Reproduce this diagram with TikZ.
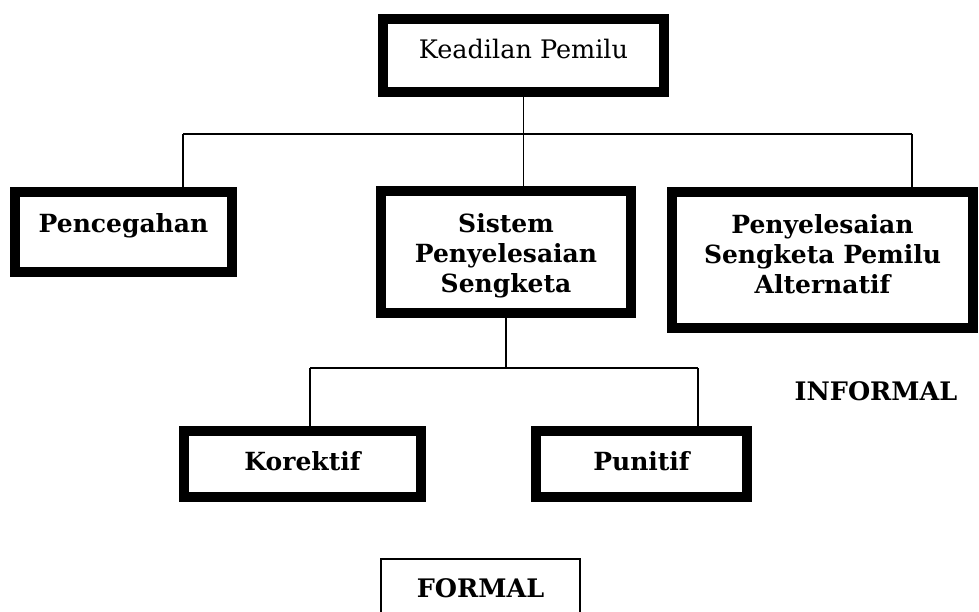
\documentclass[tikz,border=0pt]{standalone}
\usepackage{fontspec}
\setmainfont{DejaVu Serif}
\begin{document}
\begin{tikzpicture}[x=1pt,y=-1pt,
  heavybox/.style={draw, line width=10pt, align=center, inner sep=0pt,
    font=\fontsize{25}{30}\selectfont\bfseries},
  thinbox/.style={draw, line width=2pt, align=center, inner sep=0pt,
    font=\fontsize{25}{30}\selectfont\bfseries},
  conn/.style={line width=1.8pt},
  plainlabel/.style={inner sep=0pt, font=\fontsize{25.5}{30}\selectfont\bfseries}
]
\clip (0,0) rectangle (979,612);
\fill[white] (0,0) rectangle (979,612);

\node[heavybox, font=\fontsize{25.5}{30}\selectfont, minimum width=281pt, minimum height=73pt,
  text height=22pt, text depth=15pt] (top) at (523.5,55.5) {Keadilan Pemilu};
\node[heavybox, minimum width=217pt, minimum height=80pt, text height=20pt, text depth=18pt] (pcg) at (123.5,232) {Pencegahan};
\node[heavybox, minimum width=250pt, minimum height=122pt, text height=80pt, text depth=0pt] (sys) at (506,252) {Sistem\\Penyelesaian\\Sengketa};
\node[heavybox, minimum width=301pt, minimum height=136pt, text height=72pt, text depth=6pt] (alt) at (822.5,260) {Penyelesaian\\Sengketa Pemilu\\Alternatif};
\node[heavybox, minimum width=237pt, minimum height=66pt, text height=24pt, text depth=12pt] (kor) at (302.5,464) {Korektif};
\node[heavybox, minimum width=211pt, minimum height=66pt, text height=24pt, text depth=12pt] (pun) at (641.5,464) {Punitif};
\node[plainlabel, anchor=base] (inf) at (876,400) {INFORMAL};
\node[thinbox, font=\fontsize{25.5}{30}\selectfont\bfseries, minimum width=199pt, minimum height=56pt, text height=30pt, text depth=10pt] (frm) at (480.5,587) {FORMAL};

\coordinate (busL) at (183,134);
\coordinate (busR) at (912,134);
\coordinate (midL) at (310,368);
\coordinate (midR) at (698,368);

\draw[conn] (top.south) -- ([yshift=-2pt]top.south |- sys.north);
\draw[conn] (busL) -- (busR);
\draw[conn] (busL) -- ([yshift=-2pt]busL |- pcg.north);
\draw[conn] (busR) -- ([yshift=-2pt]busR |- alt.north);
\draw[conn] (sys.south) -- (sys.south |- midL);
\draw[conn] (midL) -- (midR);
\draw[conn] (midL) -- ([yshift=-6pt]midL |- kor.north);
\draw[conn] (midR) -- ([yshift=-6pt]midR |- pun.north);
\end{tikzpicture}
\end{document}
